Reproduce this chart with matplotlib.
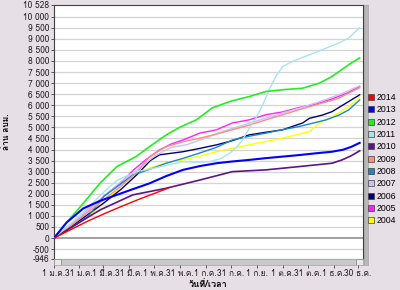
import matplotlib
matplotlib.use('Agg')
import matplotlib.pyplot as plt
from matplotlib import font_manager
from matplotlib.ft2font import FT2Font
from matplotlib.lines import Line2D
from matplotlib.patches import Rectangle

# ---------------- data (million m3, cumulative from 1 Jan) ----------------
years = ['2014', '2013', '2012', '2011', '2010', '2009', '2008', '2007', '2006', '2005', '2004']
colors = ['#ff0000', '#0000ff', '#22ee22', '#a8e4ec', '#5c1488', '#ff8c80',
          '#1888c8', '#c4c4f8', '#000078', '#ff20ff', '#ffff00']

d2014 = [0, 20, 40, 60, 80, 100, 120, 136]
v2014 = [0, 380, 760, 1100, 1420, 1730, 2020, 2250]

d2013 = [0, 15, 35, 55, 75, 95, 114, 134, 154, 174, 194, 213, 233, 253, 273, 293, 313, 332, 345, 355, 365]
v2013 = [0, 700, 1340, 1680, 1950, 2220, 2470, 2800, 3080, 3250, 3380, 3460, 3530, 3610, 3680, 3750, 3830, 3900, 3990, 4120, 4300]

d2012 = [0, 15, 35, 55, 75, 98, 114, 134, 150, 170, 189, 210, 233, 253, 273, 297, 317, 332, 352, 365]
v2012 = [0, 700, 1570, 2480, 3230, 3680, 4130, 4660, 5000, 5340, 5880, 6170, 6390, 6620, 6700, 6770, 7000, 7300, 7830, 8140]

d2011 = [0, 20, 40, 60, 75, 98, 110, 130, 154, 170, 186, 200, 210, 218, 225, 237, 241, 249, 257, 265, 273, 285, 305, 325, 340, 352, 365]
v2011 = [0, 650, 1350, 2100, 2600, 3000, 3080, 3250, 3450, 3420, 3450, 3600, 3840, 4100, 4430, 5200, 5410, 6000, 6700, 7300, 7750, 7980, 8280, 8580, 8810, 9040, 9500]

d2010 = [0, 20, 55, 94, 134, 174, 213, 253, 293, 332, 344, 355, 365]
v2010 = [0, 470, 1270, 1950, 2250, 2620, 3000, 3080, 3230, 3380, 3530, 3720, 3940]

d2009 = [0, 20, 40, 60, 80, 100, 114, 134, 154, 174, 194, 213, 233, 253, 273, 293, 313, 330, 340, 352, 365]
v2009 = [0, 550, 1150, 1750, 2350, 3000, 3680, 4130, 4350, 4510, 4700, 4890, 5100, 5340, 5570, 5800, 6020, 6200, 6320, 6550, 6790]

d2008 = [0, 20, 40, 60, 80, 94, 114, 134, 154, 174, 194, 213, 233, 253, 273, 293, 310, 325, 340, 352, 365]
v2008 = [0, 450, 950, 1900, 2450, 2850, 3100, 3380, 3600, 3840, 4100, 4430, 4600, 4740, 4900, 5040, 5200, 5340, 5550, 5790, 6240]

d2007 = [0, 20, 40, 60, 80, 100, 120, 140, 158, 180, 200, 230, 260, 273, 300, 320, 340, 365]
v2007 = [0, 600, 1250, 1900, 2550, 3100, 3700, 4100, 4210, 4500, 4800, 5150, 5500, 5650, 5950, 6200, 6470, 6880]

d2006 = [0, 20, 40, 60, 80, 100, 115, 126, 154, 174, 194, 213, 233, 253, 273, 297, 305, 320, 332, 352, 365]
v2006 = [0, 500, 1050, 1600, 2200, 2900, 3500, 3760, 3900, 4050, 4210, 4400, 4660, 4780, 4890, 5200, 5410, 5550, 5710, 6170, 6470]

d2005 = [0, 20, 40, 60, 80, 95, 110, 126, 140, 154, 174, 194, 213, 233, 253, 273, 293, 313, 333, 350, 365]
v2005 = [0, 600, 1250, 1900, 2500, 3080, 3550, 3980, 4250, 4430, 4740, 4890, 5200, 5340, 5570, 5700, 5900, 6050, 6300, 6550, 6850]

d2004 = [0, 20, 40, 60, 87, 100, 114, 134, 154, 174, 194, 213, 233, 253, 273, 305, 317, 329, 340, 352, 365]
v2004 = [0, 450, 950, 1600, 2620, 2950, 3160, 3400, 3530, 3700, 3900, 4050, 4210, 4360, 4510, 4810, 5200, 5410, 5650, 5940, 6380]

series = {
    '2014': (d2014, v2014), '2013': (d2013, v2013), '2012': (d2012, v2012),
    '2011': (d2011, v2011), '2010': (d2010, v2010), '2009': (d2009, v2009),
    '2008': (d2008, v2008), '2007': (d2007, v2007), '2006': (d2006, v2006),
    '2005': (d2005, v2005), '2004': (d2004, v2004),
}

xtick_days = [0, 30, 59, 89, 120, 150, 181, 211, 243, 273, 303, 334, 363]
xtick_labels = ['1 ม.ค.', '31 ม.ค.', '1 มี.ค.', '31 มี.ค.', '1 พ.ค.', '31 พ.ค.', '1 ก.ค.',
                '31 ก.ค.', '1 ก.ย.', '1 ต.ค.', '31 ต.ค.', '1 ธ.ค.', '30 ธ.ค.']
ytick_vals = [-946, -500, 0, 500, 1000, 1500, 2000, 2500, 3000, 3500, 4000, 4500, 5000,
              5500, 6000, 6500, 7000, 7500, 8000, 8500, 9000, 9500, 10000, 10528]

# ---------------- fonts ----------------
def find_thai():
    for f in font_manager.fontManager.ttflist:
        try:
            cm = FT2Font(f.fname).get_charmap()
            if 0x0E21 in cm and 0x0E04 in cm and 0x0E35 in cm:
                return f.name
        except Exception:
            pass
    return None

thai = find_thai()
fam = ([thai] if thai else []) + ['Liberation Sans', 'DejaVu Sans']
plt.rcParams['font.family'] = fam

bg = '#e6dfe6'
W, H = 400, 290
fig = plt.figure(figsize=(4, 2.9), dpi=100, facecolor=bg)

L, R, T, B = 54, 363, 5, 259
ax = fig.add_axes([L / W, 1 - B / H, (R - L) / W, (B - T) / H])
ax.set_facecolor('white')

for y in ytick_vals:
    if y == 0:
        ax.axhline(y, color='#909090', lw=1.2, zorder=1)
    elif y not in (-946, 10528):
        ax.axhline(y, color='#d4d4d4', lw=0.9, zorder=1)

for yr, c in zip(reversed(years), reversed(colors)):
    d, v = series[yr]
    lw = 1.5 if yr == '2013' else (1.2 if yr in ('2012', '2010') else 1.0)
    ax.plot(d, v, color=c, lw=lw, zorder=3)

ax.set_xlim(0, 369)
ax.set_ylim(-946, 10528)
ax.set_yticks(ytick_vals)
ax.set_yticklabels([f'{v:,}'.replace(',', ' ') for v in ytick_vals])
ax.set_xticks(xtick_days)
ax.set_xticklabels(xtick_labels)
ax.tick_params(axis='y', direction='out', length=2.5, width=0.6, color='#404040',
               labelsize=6, pad=1, labelcolor='#202020')
ax.tick_params(axis='x', direction='out', length=6.3, width=0.6, color='#404040',
               labelsize=6, pad=1, labelcolor='#202020')
for s in ax.spines.values():
    s.set_color('#404040')
    s.set_linewidth(0.8)

ax.set_ylabel('ล้าน ลบม.', fontsize=6, fontweight='bold', labelpad=4)
ax.yaxis.set_label_coords(-0.14, 0.5)
ax.set_xlabel('วันที่/เวลา', fontsize=6.5, fontweight='bold', labelpad=1)

# scrollbars
sb = fig.add_axes([L / W, 1 - 265 / H, (R - L) / W, 6 / H], zorder=5)
sb.set_facecolor('#c8c8c8')
sb.set_xticks([]); sb.set_yticks([])
for s in sb.spines.values():
    s.set_color('#a0a0a0'); s.set_linewidth(0.5)
sb.add_patch(Rectangle((0, 0), 0.022, 1, transform=sb.transAxes, facecolor='#e8e8e8', edgecolor='#808080', lw=0.5))
sb.add_patch(Rectangle((0.978, 0), 0.022, 1, transform=sb.transAxes, facecolor='#e8e8e8', edgecolor='#808080', lw=0.5))

vb = fig.add_axes([364 / W, 1 - 265 / H, 4 / W, (265 - T) / H], zorder=5)
vb.set_facecolor('#b8b8b8')
vb.set_xticks([]); vb.set_yticks([])
for s in vb.spines.values():
    s.set_color('#a0a0a0'); s.set_linewidth(0.5)

handles = [Line2D([], [], ls='none', marker='s', markersize=4, markerfacecolor=c,
                  markeredgecolor='#404040', markeredgewidth=0.5) for c in colors]
fig.legend(handles, years, loc='upper left', bbox_to_anchor=(368 / W, 1 - 93 / H),
           frameon=False, handlelength=0.6, handletextpad=0.4,
           labelspacing=0.38, borderpad=0, borderaxespad=0,
           prop={'family': ['Liberation Sans', 'DejaVu Sans'], 'size': 6.3})

fig.savefig('out.png', dpi=100, facecolor=bg)
